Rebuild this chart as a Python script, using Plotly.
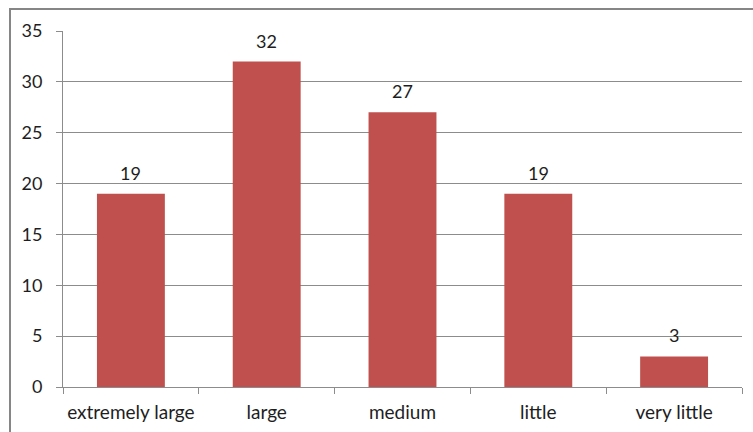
import plotly.graph_objects as go

categories = ["extremely large", "large", "medium", "little", "very little"]
values = [19, 32, 27, 19, 3]
y_ticks = [0, 5, 10, 15, 20, 25, 30, 35]

W, H = 753, 432
ml, mr, mt, mb = 63, 11, 31, 45
pw, ph = W - ml - mr, H - mt - mb

font = dict(family="Lato, Open Sans, sans-serif", size=18, color="#1e1e1e")

fig = go.Figure(go.Bar(
    x=categories, y=values, width=0.5,
    marker=dict(color="#C0504D", line=dict(width=0)),
))

for c, v in zip(categories, values):
    fig.add_annotation(x=c, y=v, text=str(v), showarrow=False,
                       yanchor="bottom", yshift=8, font=font)

fig.update_layout(
    width=W, height=H,
    margin=dict(l=ml, r=mr, t=mt, b=mb, pad=0, autoexpand=False),
    paper_bgcolor="white", plot_bgcolor="white",
    showlegend=False, font=font,
    xaxis=dict(
        type="category", showgrid=False, showline=True, linecolor="#8c8c8c", linewidth=1,
        ticks="outside", ticklen=6, tickcolor="#8c8c8c", tickson="boundaries",
        tickfont=dict(font, size=19), tickangle=0, ticklabelstandoff=8, automargin=False,
    ),
    yaxis=dict(
        range=[0, 35], tickvals=y_ticks, showgrid=True, gridcolor="#8c8c8c", gridwidth=1,
        showline=True, linecolor="#8c8c8c", linewidth=1, zeroline=False,
        ticks="outside", ticklen=6, tickcolor="#8c8c8c", tickfont=font,
        ticklabelstandoff=10, automargin=False,
    ),
    shapes=[dict(
        type="rect", xref="paper", yref="paper",
        x0=(10 - ml) / pw, x1=1.2, y0=-0.3, y1=1 + (mt - 9) / ph,
        line=dict(color="#868686", width=2), fillcolor="rgba(0,0,0,0)", layer="below",
    )],
)

fig.write_html("out.html")
